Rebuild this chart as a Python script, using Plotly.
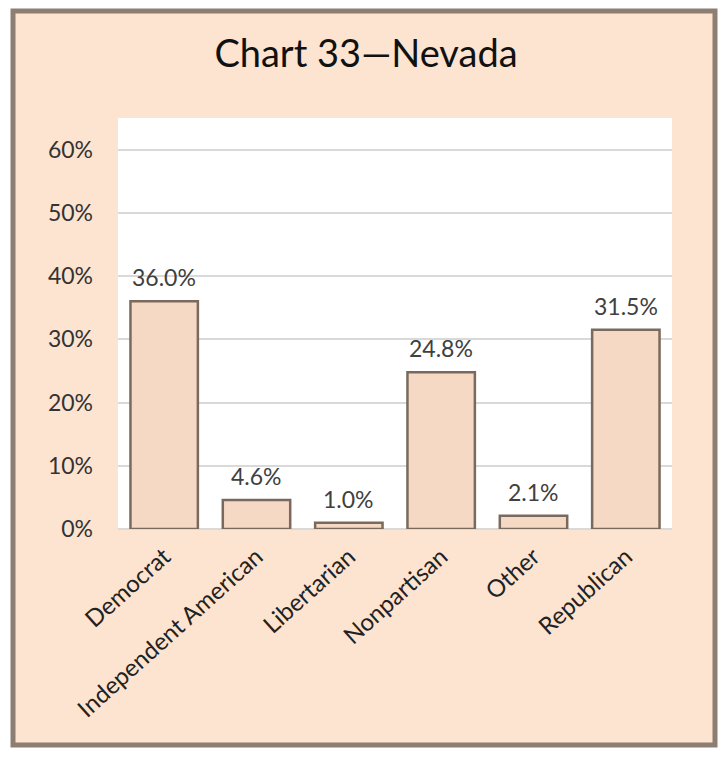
import plotly.graph_objects as go

categories = ["Democrat", "Independent American", "Libertarian", "Nonpartisan", "Other", "Republican"]
values = [0.360, 0.046, 0.010, 0.248, 0.021, 0.315]
labels = ["36.0%", "4.6%", "1.0%", "24.8%", "2.1%", "31.5%"]
y_ticks = [0, 0.1, 0.2, 0.3, 0.4, 0.5, 0.6]
y_tick_text = ["0%", "10%", "20%", "30%", "40%", "50%", "60%"]

W, H = 724, 757
L, R, T, B = 118, 52, 118, 228
pw, ph = W - L - R, H - T - B
FONT = "Lato, Open Sans, sans-serif"

def px_x(p):
    return (p - L) / pw

def px_y(p):
    return (H - B - p) / ph

fig = go.Figure()
fig.add_trace(go.Bar(
    x=categories, y=values,
    marker=dict(color="#F6D9C4", line=dict(color="#7A6A5E", width=2.5)),
    width=0.73, cliponaxis=False, hoverinfo="skip",
))

annotations = [
    dict(x=c, y=v, text=t, xref="x", yref="y", showarrow=False,
         yanchor="bottom", yshift=8,
         font=dict(family=FONT, size=23, color="#404040"))
    for c, v, t in zip(categories, values, labels)
]

fig.update_layout(
    width=W, height=H,
    margin=dict(l=L, r=R, t=T, b=B),
    paper_bgcolor="white",
    plot_bgcolor="white",
    showlegend=False,
    annotations=annotations,
    title=dict(text="Chart 33\u2014Nevada", x=366 / W, xref="container", xanchor="center",
               y=1 - 54 / H, yanchor="middle",
               font=dict(family=FONT, size=38, color="#111111")),
    xaxis=dict(tickangle=-42, tickfont=dict(family=FONT, size=24, color="#222222"),
               showgrid=False, showline=False, ticks="", ticklabelstandoff=8),
    yaxis=dict(range=[0, 0.65], tickvals=y_ticks, ticktext=y_tick_text,
               tickfont=dict(family=FONT, size=23, color="#333333"),
               showgrid=True, gridcolor="#D9D9D9", gridwidth=2, zeroline=True,
               zerolinecolor="#D9D9D9", zerolinewidth=2, ticks="", ticklabelstandoff=24),
    shapes=[
        dict(type="rect", xref="paper", yref="paper", layer="below",
             x0=px_x(13), x1=px_x(715), y0=px_y(745), y1=px_y(11),
             fillcolor="#FDE4D0", line=dict(color="#8E7E72", width=5)),
        dict(type="rect", xref="paper", yref="paper", layer="below",
             x0=0, x1=1, y0=0, y1=1,
             fillcolor="white", line=dict(width=0)),
    ],
)

fig.write_html("out.html", config={"displayModeBar": False},
               post_script="document.body.style.margin='0';")
